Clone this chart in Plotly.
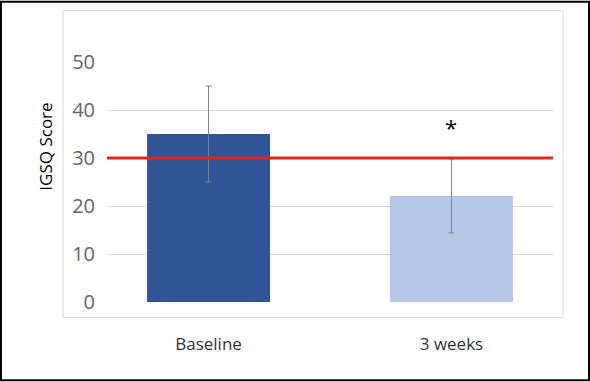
import plotly.graph_objects as go

categories = ["Baseline", "3 weeks"]
means = [35.0, 22.1]
errors = [10.0, 7.7]
bar_colors = ["#2F5597", "#B4C7E7"]
threshold = 30
y_ticks = [0, 10, 20, 30, 40, 50]
sig_marker_y = 36.4

W, H = 590, 382
L, R, T, B = 107, 553, 61.5, 302.5
pw, ph = R - L, B - T

def px(x):
    return (x - L) / pw

def py(y):
    return (B - y) / ph

fig = go.Figure()
fig.add_trace(go.Bar(
    x=categories, y=means,
    marker=dict(color=bar_colors, line=dict(width=0)),
    width=0.506,
    error_y=dict(type="data", array=errors, visible=True,
                 color="#808080", thickness=1, width=3),
    showlegend=False,
))

fig.add_shape(type="line", xref="paper", yref="y", x0=0, x1=1,
              y0=threshold, y1=threshold, line=dict(color="#E3241C", width=3),
              layer="above")

# inner chart-area box
fig.add_shape(type="rect", xref="paper", yref="paper",
              x0=px(63), x1=px(563), y0=py(318), y1=py(10),
              line=dict(color="#D9D9D9", width=1), layer="below")
# outer border
fig.add_shape(type="rect", xref="paper", yref="paper",
              x0=px(1), x1=px(589), y0=py(381), y1=py(1),
              line=dict(color="#000000", width=2), layer="below")

fig.add_annotation(x=1, y=sig_marker_y, xref="x", yref="y", text="*",
                   showarrow=False, font=dict(size=22, color="#000000",
                                              family="Open Sans"))
fig.add_annotation(x=px(32), y=py(147), xref="paper", yref="paper",
                   text="IGSQ Score", textangle=-90, showarrow=False,
                   font=dict(size=17, color="#000000", family="Open Sans"))

fig.update_layout(
    width=W, height=H,
    margin=dict(l=L, r=W - R, t=T, b=H - B),
    plot_bgcolor="white", paper_bgcolor="white",
    font=dict(family="Open Sans"),
    xaxis=dict(range=[-0.418, 1.418], showgrid=False, zeroline=False,
               showline=False, ticks="outside", ticklen=27,
               tickcolor="rgba(0,0,0,0)",
               tickfont=dict(size=17, color="#333333")),
    yaxis=dict(range=[0, 50], tickvals=y_ticks, showgrid=True,
               gridcolor="#D9D9D9", gridwidth=1, zeroline=False,
               showline=False, ticks="outside", ticklen=7,
               tickcolor="rgba(0,0,0,0)",
               tickfont=dict(size=20, color="#666666")),
)

fig.write_html("out.html", config={"displayModeBar": False},
               post_script="document.body.style.margin='0';document.body.style.padding='0';")
